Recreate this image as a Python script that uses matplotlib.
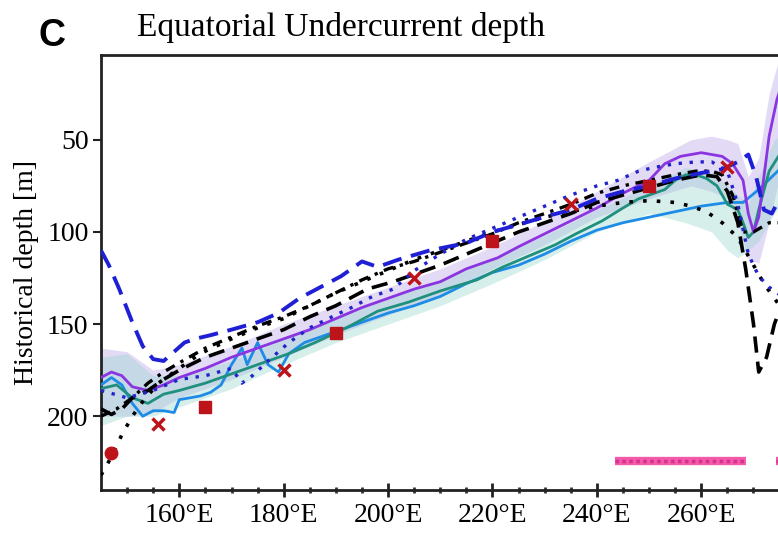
import numpy as np
import matplotlib
matplotlib.use("Agg")
import matplotlib.pyplot as plt

# ---------------- data (lon in degrees E, depth in m) ----------------
blue_dash_lon = [145, 146.5, 148.5, 151, 153, 155, 157, 159, 161, 163, 166, 170, 175, 179, 183, 187, 191, 195,
                 198, 202, 208, 215, 220, 225, 231, 235, 240, 245, 250, 255, 260, 264, 267, 269, 270.5, 272,
                 273.5, 275, 278]
blue_dash_dep = [110, 118, 131, 149, 162, 169, 170, 165, 160, 158, 156, 153, 149, 144, 136, 130, 124, 116,
                 119, 115, 110, 106, 100, 96, 91, 88, 82, 78, 75, 71, 68, 66, 62, 58, 70, 88,
                 90, 82, 72]

blue_dot_lon = [145, 150, 155, 160, 165, 170, 172, 174, 177, 181, 185, 190, 193, 197, 201, 205, 210, 215, 220,
                225, 230, 235, 240, 244, 248, 251, 255, 259, 262, 265, 267, 269, 271, 273, 275, 278]
blue_dot_dep = [186, 190, 186, 180, 178, 174, 182, 178, 170, 160, 152, 145, 141, 135, 131, 121, 112, 104, 98,
                92, 86, 80, 75, 72, 67, 65, 63, 62, 62, 67, 85, 112, 124, 130, 134, 138]

black_dash_lon = [145, 147, 149, 151, 154, 157, 160, 165, 170, 175, 180, 185, 190, 196, 201, 205, 210, 215, 220,
                  225, 230, 235, 240, 245, 250, 255, 260, 263, 265, 267, 268.5, 270, 271, 272.5, 274, 276, 279]
black_dash_dep = [196, 199, 196, 190, 186, 180, 175, 168, 163, 158, 153, 146, 140, 131, 127, 123, 118, 112, 106,
                  100, 95, 90, 84, 80, 76, 72, 69, 70, 78, 95, 120, 150, 176, 168, 150, 135, 125]

black_dot_lon = [145, 147, 149, 151, 153, 156, 160, 164, 167, 170, 175, 180, 185, 190, 195, 200, 205, 210, 215,
                 220, 225, 230, 235, 240, 245, 250, 255, 258, 261, 264, 267, 269, 272, 275, 278]
black_dot_dep = [232, 222, 210, 200, 192, 182, 174, 166, 162, 158, 152, 147, 140, 133, 127, 121, 115, 110, 105,
                 100, 96, 92, 89, 86, 84, 83, 84, 86, 89, 95, 103, 113, 128, 140, 150]

black_dd_lon = [145, 148, 151, 154, 157, 160, 165, 170, 175, 180, 185, 190, 195, 200, 205, 210, 215, 220, 225,
                230, 235, 240, 245, 250, 255, 259, 262, 264, 266, 268, 270, 273, 276]
black_dd_dep = [200, 196, 190, 182, 176, 171, 163, 157, 151, 146, 140, 133, 126, 120, 116, 111, 106, 101, 95,
                90, 85, 79, 75, 72, 69, 67, 67, 69, 80, 100, 100, 95, 95]

purple_lon = [145, 147, 149, 151, 154, 157, 160, 165, 170, 175, 180, 185, 190, 195, 200, 205, 210, 215, 221,
              225, 230, 235, 240, 245, 250, 253, 256, 260, 264, 266, 268, 269, 270, 271, 272, 273, 274.5, 276]
purple_dep = [179, 176, 178, 184, 186, 183, 179, 174, 168, 163, 158, 153, 147, 141, 136, 131, 127, 120, 114,
              108, 101, 94, 87, 79, 72, 63, 59, 57, 59, 63, 72, 90, 100, 92, 70, 48, 28, 15]

purple_band_lon = [145, 150, 155, 160, 170, 180, 190, 200, 210, 220, 230, 240, 250, 258, 262, 265, 267, 269,
                   271, 273, 275, 277]
purple_band_lo = [163, 165, 175, 172, 162, 150, 140, 130, 120, 108, 94, 78, 62, 50, 48, 50, 52, 70, 60, 25, 5, 3]
purple_band_hi = [200, 200, 198, 190, 180, 168, 156, 145, 134, 120, 107, 92, 82, 75, 78, 82, 95, 115, 117, 95,
                  70, 60]

teal_lon = [145, 148, 151, 154, 157, 160, 165, 170, 175, 181, 186, 192, 198, 204, 210, 217, 222, 227, 232, 236,
            241, 245, 248, 251, 253, 255, 257, 259, 261, 263, 265, 267, 268, 269, 270, 271, 273, 275, 278]
teal_dep = [185, 183, 190, 193, 188, 186, 182, 177, 172, 166, 160, 152, 143, 138, 132, 126, 119, 113, 107, 101,
            94, 87, 82, 79, 77, 72, 69, 69, 71, 75, 85, 88, 95, 103, 100, 88, 67, 58, 55]

teal_band_lon = [145, 150, 155, 160, 170, 180, 190, 200, 210, 220, 230, 240, 250, 257, 262, 265, 267, 269, 271,
                 274, 277]
teal_band_lo = [168, 166, 178, 178, 170, 158, 147, 135, 126, 115, 102, 88, 75, 65, 68, 75, 80, 85, 70, 50, 45]
teal_band_hi = [205, 200, 200, 195, 185, 172, 160, 150, 140, 128, 115, 100, 90, 95, 100, 110, 114, 110, 105,
                90, 80]

lblue_lon = [145, 147, 149, 151, 153, 155, 157, 159, 160, 162, 164, 166, 168, 170, 172, 173, 175, 177, 179, 181,
             184, 188, 192, 196, 200, 205, 210, 215, 220, 225, 230, 235, 240, 245, 250, 255, 260, 265, 268,
             271, 275, 279]
lblue_dep = [183, 179, 183, 193, 200, 197, 197, 198, 191, 190, 189, 187, 183, 172, 163, 172, 160, 172, 176, 166,
             160, 156, 152, 148, 144, 140, 135, 128, 122, 118, 112, 105, 99, 95, 92, 89, 86, 84, 84,
             77, 66, 58]

obs_circle_lon = [147]
obs_circle_dep = [220]
obs_x_lon = [156, 180, 205, 235, 265]
obs_x_dep = [204, 175, 125, 85, 65]
obs_sq_lon = [165, 190, 220, 250]
obs_sq_dep = [195, 155, 105, 75]

sig_start = [243.5, 274.3]
sig_end = [268.5, 281]
sig_depth = 224

xticks = [160, 180, 200, 220, 240, 260]
xticklabels = ["160°E", "180°E", "200°E", "220°E", "240°E", "260°E"]
yticks = [50, 100, 150, 200]

# ---------------- figure ----------------
W, H = 778, 542
fig = plt.figure(figsize=(W / 100, H / 100), dpi=100)
serif = ["Liberation Serif", "DejaVu Serif"]
x0, x1 = 145, 280
ax_w_px = (x1 - x0) * 5.22
ax = fig.add_axes([101 / W, 52 / H, ax_w_px / W, 435 / H])
ax.set_xlim(x0, x1)
ax.set_ylim(240, 4)

ax.fill_between(purple_band_lon, purple_band_lo, purple_band_hi, color="#9b7fe0", alpha=0.28, lw=0)
ax.fill_between(teal_band_lon, teal_band_lo, teal_band_hi, color="#8fd3c6", alpha=0.35, lw=0)

ax.plot(lblue_lon, lblue_dep, color="#1e8ce6", lw=2.0, zorder=3)
ax.plot(teal_lon, teal_dep, color="#1f8f7e", lw=2.0, zorder=3)
ax.plot(purple_lon, purple_dep, color="#8a35e0", lw=2.0, zorder=3)
ax.plot(black_dash_lon, black_dash_dep, color="black", lw=2.6, ls=(0, (4.5, 2.5)), zorder=4)
ax.plot(black_dd_lon, black_dd_dep, color="black", lw=2.4, ls=(0, (3, 2, 1, 2)), zorder=4)
ax.plot(black_dot_lon, black_dot_dep, color="black", lw=2.6, ls=(0, (1, 2.8)), zorder=4)
ax.plot(blue_dot_lon, blue_dot_dep, color="#2323cc", lw=2.4, ls=(0, (1, 2.3)), zorder=4)
ax.plot(blue_dash_lon, blue_dash_dep, color="#1f1fd6", lw=2.8, ls=(0, (5, 2.5)), zorder=4)

red = "#bd141c"
ax.plot(obs_circle_lon, obs_circle_dep, "o", color=red, ms=9, zorder=5)
ax.plot(obs_x_lon, obs_x_dep, "x", color=red, ms=9, mew=2.5, zorder=5)
ax.plot(obs_sq_lon, obs_sq_dep, "s", color=red, ms=8, zorder=5)

ax.hlines([sig_depth] * len(sig_start), sig_start, sig_end, color="#f25aaa", lw=6, zorder=5)
ax.hlines([sig_depth] * len(sig_start), sig_start, sig_end, color="#d8308c", lw=2.5,
          linestyles=[(0, (1, 1))], zorder=6)

# axes styling
for s in ["right", "bottom", "left", "top"]:
    ax.spines[s].set_linewidth(2)
    ax.spines[s].set_color("#222222")
ax.spines["right"].set_visible(False)

ax.set_xticks(xticks)
ax.set_xticklabels(xticklabels, fontfamily=serif, fontsize=20)
ax.set_xticks(np.arange(150, 280, 5), minor=True)
ax.set_yticks(yticks)
ax.set_yticklabels([str(v) for v in yticks], fontfamily=serif, fontsize=20)
ax.tick_params(axis="x", which="major", direction="inout", length=10, width=2, pad=4, color="#222222")
ax.tick_params(axis="x", which="minor", direction="inout", length=5, width=2, color="#333333")
ax.tick_params(axis="y", which="major", direction="out", length=6, width=1.5, pad=3, color="#222222")

ax.set_ylabel("Historical depth [m]", fontfamily=serif, fontsize=20)
ax.yaxis.set_label_coords(-(101 - 39) / ax_w_px, 0.5)

fig.text(137 / W, 1 - 36 / H, "Equatorial Undercurrent depth", fontfamily=serif, fontsize=24,
         va="baseline", ha="left")
fig.text(39 / W, 1 - 46 / H, "C", fontfamily=["Liberation Sans", "DejaVu Sans"], fontweight="bold",
         fontsize=27, va="baseline", ha="left")

fig.savefig("out.png", dpi=100)
